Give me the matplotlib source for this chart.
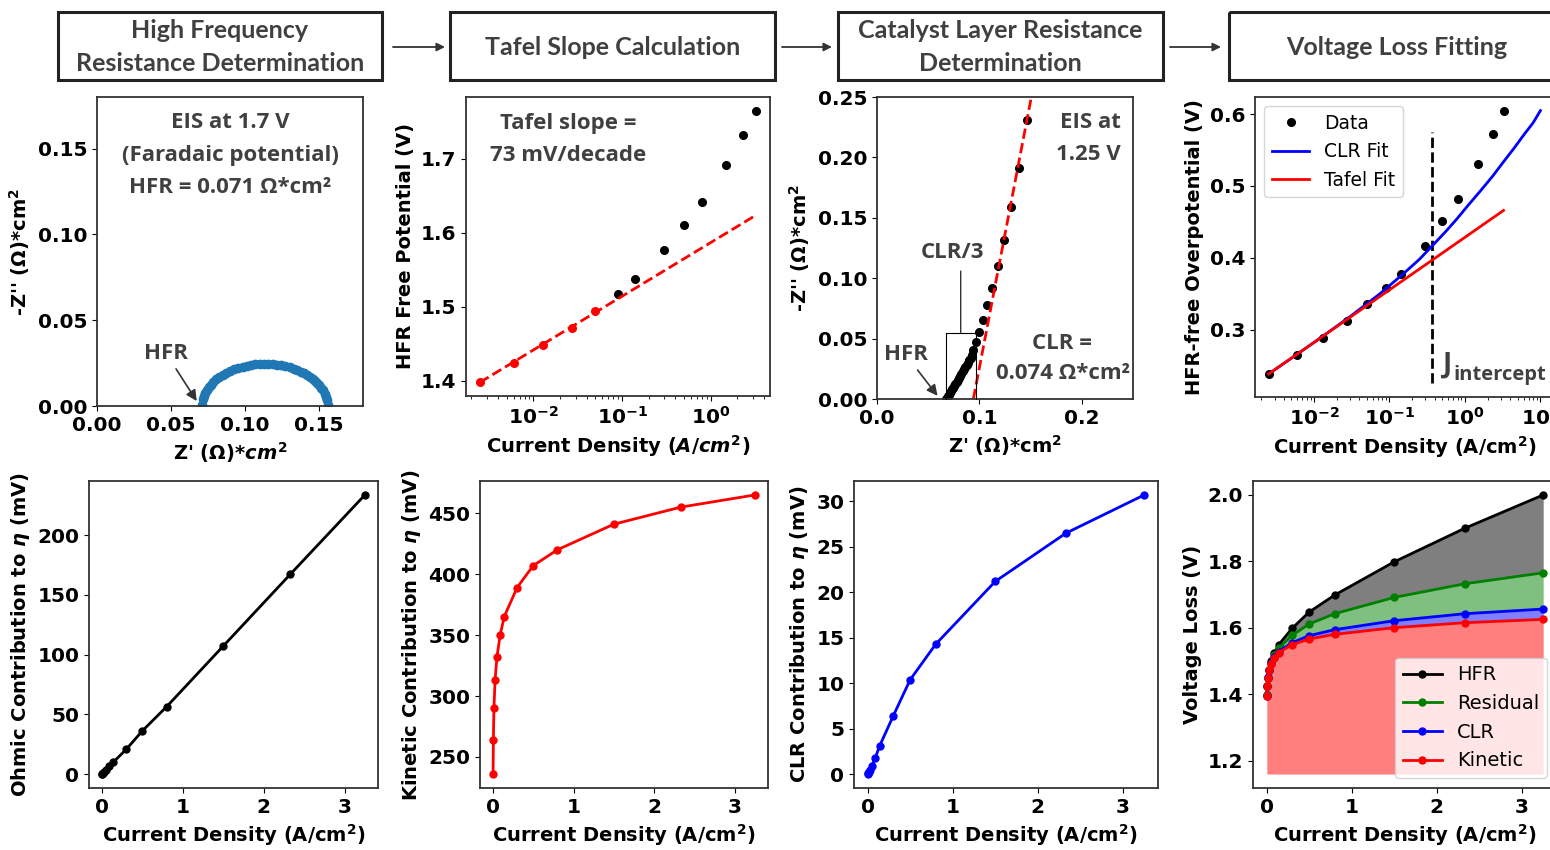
import numpy as np
import matplotlib.pyplot as plt
from matplotlib.patches import Rectangle

plt.rcParams['font.family'] = 'DejaVu Sans'
plt.rcParams['font.weight'] = 'bold'
plt.rcParams['axes.labelweight'] = 'bold'
plt.rcParams['axes.labelsize'] = 14
plt.rcParams['xtick.labelsize'] = 14.5
plt.rcParams['ytick.labelsize'] = 14.5
plt.rcParams['axes.edgecolor'] = '#333333'
plt.rcParams['axes.linewidth'] = 1.3
# math parts (Omega, eta, cm^2) stay in regular weight
plt.rcParams['mathtext.fontset'] = 'custom'
plt.rcParams['mathtext.rm'] = 'DejaVu Sans'
plt.rcParams['mathtext.it'] = 'DejaVu Sans:italic'
plt.rcParams['mathtext.bf'] = 'DejaVu Sans:bold'

# ---- data ----
# polarisation points (A/cm2)
j = [0.0025, 0.006, 0.013, 0.027, 0.05, 0.09, 0.14, 0.3, 0.5, 0.8, 1.5, 2.33, 3.25]
hfr_free_V = [1.398, 1.424, 1.448, 1.472, 1.495, 1.518, 1.538, 1.577, 1.611, 1.642, 1.691, 1.732, 1.765]
n_tafel = 5
tafel_j = [0.0025, 3.25]
tafel_V = [1.398, 1.624]

# EIS at 1.7 V
eis1_zr = [0.0710, 0.0715, 0.0722, 0.0731, 0.0742, 0.0755, 0.0770, 0.0787, 0.0806, 0.0827,
           0.0850, 0.0875, 0.0901, 0.0928, 0.0956, 0.0985, 0.1014, 0.1043, 0.1072, 0.1101,
           0.1130, 0.1159, 0.1188, 0.1217, 0.1246, 0.1275, 0.1303, 0.1330, 0.1356, 0.1380,
           0.1403, 0.1424, 0.1443, 0.1460, 0.1475, 0.1490, 0.1504, 0.1518, 0.1530, 0.1541,
           0.1550, 0.1556, 0.1560]
eis1_zi = [0.0003, 0.0038, 0.0058, 0.0076, 0.0093, 0.0110, 0.0125, 0.0141, 0.0155, 0.0169,
           0.0182, 0.0194, 0.0205, 0.0214, 0.0222, 0.0229, 0.0235, 0.0239, 0.0242, 0.0244,
           0.0245, 0.0245, 0.0243, 0.0240, 0.0236, 0.0231, 0.0225, 0.0218, 0.0209, 0.0200,
           0.0190, 0.0180, 0.0169, 0.0158, 0.0147, 0.0135, 0.0121, 0.0106, 0.0091, 0.0072,
           0.0053, 0.0033, 0.0005]

# EIS at 1.25 V
eis2_zr = [0.0676, 0.0685, 0.0694, 0.0703, 0.0713, 0.0723, 0.0733, 0.0744, 0.0755, 0.0766,
           0.0777, 0.0789, 0.0801, 0.0813, 0.0825, 0.0838, 0.0851, 0.0864, 0.0877, 0.0890,
           0.0903, 0.0916, 0.0928, 0.0935, 0.0967, 0.0999, 0.1035, 0.1077, 0.1124, 0.1180,
           0.1245, 0.1307, 0.1389, 0.1464]
eis2_zi = [0.0003, 0.0012, 0.0024, 0.0036, 0.0050, 0.0064, 0.0079, 0.0094, 0.0110, 0.0126,
           0.0142, 0.0159, 0.0176, 0.0193, 0.0210, 0.0228, 0.0246, 0.0264, 0.0282, 0.0300,
           0.0319, 0.0340, 0.0362, 0.0406, 0.0474, 0.0558, 0.0655, 0.0775, 0.0915, 0.1100,
           0.1313, 0.1587, 0.1910, 0.2307]
clr_line_zr = [0.0941, 0.1530]
clr_line_zi = [0.0, 0.2600]

# HFR-free overpotential and fits
eta_V = [0.238, 0.264, 0.288, 0.312, 0.335, 0.358, 0.378, 0.417, 0.451, 0.482, 0.531, 0.572, 0.605]
clrfit_j = [0.0025, 0.01, 0.03, 0.075, 0.15, 0.25, 0.364, 0.55, 0.78, 1.1, 1.6, 2.3, 3.26, 4.5, 6.0, 8.0, 10.0]
clrfit_eta = [0.238, 0.282, 0.318, 0.350, 0.377, 0.398, 0.416, 0.436, 0.454, 0.473, 0.493,
              0.513, 0.534, 0.553, 0.571, 0.588, 0.605]
tafelfit_j = [0.0025, 3.25]
tafelfit_eta = [0.238, 0.466]
j_intercept = 0.364
vline_lo, vline_hi = 0.225, 0.575

# contributions (mV)
ohmic_mV = [0.18, 0.43, 0.93, 1.9, 3.6, 6.5, 10.1, 20.8, 36.3, 56.5, 107.2, 167.3, 233.5]
kinetic_mV = [236, 264, 290, 313, 332, 350, 365, 389, 407, 420, 441, 455, 465]
clr_mV = [0.04, 0.1, 0.22, 0.5, 0.95, 1.8, 3.1, 6.4, 10.4, 14.3, 21.2, 26.5, 30.7]

# voltage loss breakdown (V)
base_V = 1.16
kin_V = [1.396, 1.424, 1.450, 1.472, 1.492, 1.510, 1.525, 1.549, 1.566, 1.580, 1.600, 1.615, 1.625]
clr_V = [1.396, 1.424, 1.451, 1.473, 1.493, 1.512, 1.528, 1.555, 1.576, 1.594, 1.621, 1.642, 1.656]
resid_V = [1.398, 1.424, 1.448, 1.472, 1.495, 1.518, 1.538, 1.577, 1.611, 1.642, 1.691, 1.732, 1.765]
hfr_V = [1.398, 1.424, 1.449, 1.474, 1.499, 1.524, 1.548, 1.598, 1.647, 1.698, 1.798, 1.899, 1.999]

headers = ['High Frequency\nResistance Determination', 'Tafel Slope Calculation',
           'Catalyst Layer Resistance\nDetermination', 'Voltage Loss Fitting']

# ---- layout ----
W, H = 1550, 850
fig = plt.figure(figsize=(15.5, 8.5), dpi=100)


def place(l, t, r, b):
    return fig.add_axes([l / W, 1 - b / H, (r - l) / W, (b - t) / H])


gray = '#404040'
ann = dict(family='Open Sans', weight='bold', color=gray, fontsize=16)

# header boxes
top = fig.add_axes([0, 0, 1, 1])
top.set_xlim(0, W)
top.set_ylim(H, 0)
top.axis('off')
hx = [(58, 382), (450, 775), (838, 1163), (1229, 1565)]
for (l, r), txt in zip(hx, headers):
    top.add_patch(Rectangle((l, 12), r - l, 68, fill=False, ec='#222222', lw=2.2))
    top.text((l + r) / 2, 47, txt, ha='center', va='center', family='Lato',
             weight='bold', fontsize=18, color=gray, linespacing=1.5)
for a, b in [(393, 445), (782, 832), (1170, 1221)]:
    top.annotate('', xy=(b, 47), xytext=(a, 47),
                 arrowprops=dict(arrowstyle='-|>', color='#333333', lw=1.3,
                                 mutation_scale=12, shrinkA=0, shrinkB=0))

# panel 1: EIS at 1.7 V
ax1 = place(97, 97, 363, 406)
ax1.plot(eis1_zr, eis1_zi, 'o', color='#1f77b4', ms=6)
ax1.set_xlim(0, 0.18)
ax1.set_ylim(0, 0.18)
ax1.set_xticks([0, 0.05, 0.10, 0.15])
ax1.set_yticks([0, 0.05, 0.10, 0.15])
ax1.xaxis.set_major_formatter(plt.FormatStrFormatter('%.2f'))
ax1.yaxis.set_major_formatter(plt.FormatStrFormatter('%.2f'))
ax1.set_xlabel(r"Z' $(\Omega)$*$cm^2$")
ax1.set_ylabel(r"-Z'' $(\Omega)$*cm$^2$")
ax1.text(0.5, 0.916, 'EIS at 1.7 V', transform=ax1.transAxes, ha='center', va='center', **ann)
ax1.text(0.5, 0.812, '(Faradaic potential)', transform=ax1.transAxes, ha='center', va='center', **ann)
ax1.text(0.5, 0.706, 'HFR = 0.071 Ω*cm²', transform=ax1.transAxes, ha='center', va='center', **ann)
ax1.annotate('HFR', xy=(0.0685, 0.0015), xytext=(0.0467, 0.0307), ha='center', va='center',
             arrowprops=dict(arrowstyle='-|>', color='#333333', lw=1.2), **ann)

# panel 2: Tafel slope
ax2 = place(466, 97, 770, 396)
ax2.plot(j[n_tafel:], hfr_free_V[n_tafel:], 'o', color='black', ms=5.5)
ax2.plot(j[:n_tafel], hfr_free_V[:n_tafel], 'o', color='red', ms=5.5)
ax2.plot(tafel_j, tafel_V, '--', color='red', lw=2)
ax2.set_xscale('log')
ax2.set_xlabel(r'Current Density $(A/cm^2)$')
ax2.set_ylabel('HFR Free Potential (V)')
ax2.text(0.336, 0.913, 'Tafel slope =', transform=ax2.transAxes, ha='center', va='center', **ann)
ax2.text(0.336, 0.806, '73 mV/decade', transform=ax2.transAxes, ha='center', va='center', **ann)

# panel 3: CLR determination
ax3 = place(877, 97, 1133, 399)
ax3.plot(eis2_zr, eis2_zi, 'o', color='black', ms=5.5)
ax3.plot(clr_line_zr, clr_line_zi, '--', color='red', lw=2)
ax3.set_xlim(0, 0.25)
ax3.set_ylim(0, 0.25)
ax3.set_xticks([0, 0.1, 0.2])
ax3.set_yticks([0, 0.05, 0.10, 0.15, 0.20, 0.25])
ax3.xaxis.set_major_formatter(plt.FormatStrFormatter('%.1f'))
ax3.yaxis.set_major_formatter(plt.FormatStrFormatter('%.2f'))
ax3.set_xlabel(r"Z' $(\Omega)$*cm$^2$")
ax3.set_ylabel(r"-Z'' $(\Omega)$*cm$^2$")
ax3.text(0.832, 0.917, 'EIS at', transform=ax3.transAxes, ha='center', va='center', **ann)
ax3.text(0.826, 0.808, '1.25 V', transform=ax3.transAxes, ha='center', va='center', **ann)
ax3.text(0.723, 0.185, 'CLR =', transform=ax3.transAxes, ha='center', va='center', **ann)
ax3.text(0.727, 0.086, '0.074 Ω*cm²', transform=ax3.transAxes, ha='center', va='center', **ann)
ax3.text(0.0735, 0.121, 'CLR/3', ha='center', va='center', **ann)
ax3.annotate('', xy=(0.0818, 0.055), xytext=(0.0818, 0.106),
             arrowprops=dict(arrowstyle='-[, widthB=1.08, lengthB=4.8', color='black',
                             lw=0.8, mutation_scale=10, shrinkA=0, shrinkB=0))
ax3.annotate('HFR', xy=(0.0608, 0.0008), xytext=(0.028, 0.0367), ha='center', va='center',
             arrowprops=dict(arrowstyle='-|>', color='#333333', lw=1.2), **ann)

# panel 4: voltage loss fitting
ax4 = place(1255, 97, 1554, 397)
ax4.plot(j, eta_V, 'o', color='black', ms=5.5, label='Data', zorder=2)
ax4.plot(clrfit_j, clrfit_eta, '-', color='blue', lw=2, label='CLR Fit', zorder=3)
ax4.plot(tafelfit_j, tafelfit_eta, '-', color='red', lw=2, label='Tafel Fit', zorder=4)
ax4.vlines(j_intercept, vline_lo, vline_hi, colors='black', linestyles='--', lw=2)
ax4.set_xscale('log')
ax4.set_xlabel('Current Density (A/cm$^2$)')
ax4.set_ylabel('HFR-free Overpotential (V)')
ax4.legend(loc='upper left', prop=dict(size=13.5, weight='normal'))
ax4.text(0.49, 0.24, 'J', family='Open Sans', weight='bold', color=gray, fontsize=20)
ax4.text(0.70, 0.229, 'intercept', family='Open Sans', weight='bold', color=gray, fontsize=14.5)

# bottom row
ax5 = place(89, 481, 378, 788)
ax5.plot(j, ohmic_mV, 'o-', color='black', lw=2, ms=5)
ax5.set_ylabel(r'Ohmic Contribution to $\eta$ (mV)')

ax6 = place(480, 481, 768, 788)
ax6.plot(j, kinetic_mV, 'o-', color='red', lw=2, ms=5)
ax6.set_ylabel(r'Kinetic Contribution to $\eta$ (mV)')

ax7 = place(854, 481, 1158, 788)
ax7.plot(j, clr_mV, 'o-', color='blue', lw=2, ms=5)
ax7.set_ylabel(r'CLR Contribution to $\eta$ (mV)')

ax8 = place(1253, 481, 1557, 788)
ax8.fill_between(j, base_V, kin_V, color='red', alpha=0.5, lw=0)
ax8.fill_between(j, kin_V, clr_V, color='blue', alpha=0.5, lw=0)
ax8.fill_between(j, clr_V, resid_V, color='green', alpha=0.5, lw=0)
ax8.fill_between(j, resid_V, hfr_V, color='black', alpha=0.5, lw=0)
ax8.plot(j, hfr_V, 'o-', color='black', lw=2, ms=5, label='HFR')
ax8.plot(j, resid_V, 'o-', color='green', lw=2, ms=5, label='Residual')
ax8.plot(j, clr_V, 'o-', color='blue', lw=2, ms=5, label='CLR')
ax8.plot(j, kin_V, 'o-', color='red', lw=2, ms=5, label='Kinetic')
ax8.set_ylabel('Voltage Loss (V)')
ax8.legend(loc='lower right', prop=dict(size=14, weight='normal'))

for ax in (ax5, ax6, ax7, ax8):
    ax.set_xlabel('Current Density (A/cm$^2$)')

fig.savefig('out.png', dpi=100)
